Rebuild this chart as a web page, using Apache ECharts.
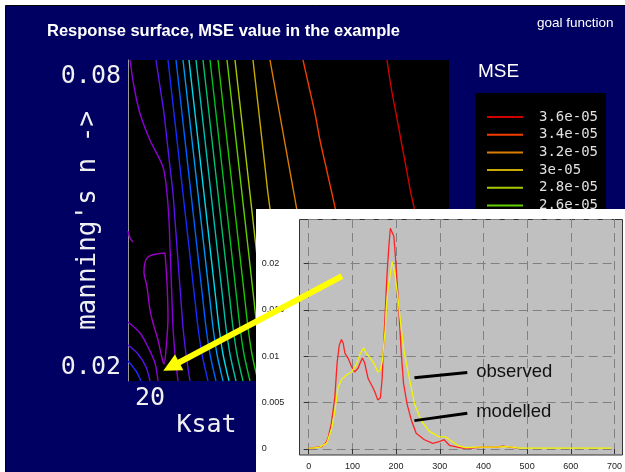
<!DOCTYPE html>
<html>
<head>
<meta charset="utf-8">
<script src="https://cdn.jsdelivr.net/npm/echarts@6.0.0/dist/echarts.min.js"></script>
<style>
  html, body { margin: 0; padding: 0; background: #ffffff; }
  #chart { width: 625px; height: 472px; }
</style>
</head>
<body>
<div id="chart"></div>
<script>
// ---------- response surface: MSE contour lines over Ksat × Manning's n ----------
// Contour levels, highest first (also the legend order)
const levelNames = ['3.6e-05', '3.4e-05', '3.2e-05', '3e-05', '2.8e-05', '2.6e-05', '2.4e-05', '2.2e-05',
  '2e-05', '1.8e-05', '1.6e-05', '1.4e-05', '1.2e-05', '1e-05', '8e-06', '6e-06', '4e-06'];

// Manning's n rows at which each contour's Ksat crossing is listed
const nRows = [0.08, 0.075, 0.07, 0.065, 0.06, 0.055, 0.05, 0.045, 0.04, 0.035, 0.03, 0.025, 0.02];

// Ksat crossing of each contour level, one value per row of nRows (top to bottom)
const k36 = [84.75, 85.75, 87, 88.25, 89.5, 90.75, 92.25, 93.5];
const k34 = [63.75, 65.25, 66.75, 68, 69.5, 71, 72.5, 74];
const k32 = [55.5, 56.7, 57.9, 59.1, 60.3, 61.5, 62.7, 63.9];
const k30 = [51.25, 52, 52.75, 53.5, 54.25, 55, 55.9, 56.65];
const k28 = [46.75, 47.5, 48.25, 49, 49.75, 50.5, 51.25, 52, 52.75, 53.5, 54.25, 55.25, 56.75];
const k26 = [44.75, 45.5, 46.25, 47, 47.75, 48.5, 49.25, 50, 50.75, 51.5, 52.25, 53.25, 54.75];
const k24 = [42.5, 43.25, 44, 44.75, 45.5, 46.25, 47, 47.75, 48.5, 49.25, 50, 51, 52.5];
const k22 = [40.5, 41.25, 42, 42.75, 43.5, 44.25, 45, 45.75, 46.5, 47.25, 48, 49, 50.5];
const k20 = [38.75, 39.5, 40.25, 41, 41.75, 42.5, 43.25, 44, 44.75, 45.5, 46.25, 47.25, 48.75];
const k18 = [37, 37.75, 38.5, 39.25, 40, 40.75, 41.5, 42.25, 43, 43.75, 44.5, 45.5, 47];
const k16 = [35.25, 36, 36.75, 37.5, 38.25, 39, 39.75, 40.5, 41.25, 42, 42.75, 43.75, 45.25];
const k14 = [33.75, 34.5, 35.25, 36, 36.75, 37.5, 38.25, 39, 39.75, 40.5, 41.25, 42.25, 43.75];
const k12 = [32, 32.75, 33.5, 34.25, 35, 35.75, 36.5, 37.25, 38, 38.75, 39.5, 40.5, 42];
const k10 = [30, 30.75, 31.5, 32.25, 33, 33.75, 34.5, 35.25, 36, 36.75, 37.5, 38.5, 40];
const k08 = [27, 28, 29, 29.75, 30.5, 31.25, 31.75, 32.25, 32.75, 33.25, 33.75, 34.5, 35.5];
const k06 = [20.5, 21.5, 23, 25.5, 28.75, 29.75, 30.25, 30.5, 30.75, 31, 31.25, 31.75, 32.5];

// Extra pieces given as [Ksat, n] points: the closed minimum and the lower-left corner
const loop04 = [[29.25, 0.04393], [25, 0.04318], [24, 0.04037], [24.75, 0.03757], [25.5, 0.03327],
  [26.25, 0.03084], [27.5, 0.02766], [28.5, 0.0243], [29, 0.02318], [29.5, 0.02579],
  [30, 0.03196], [29.75, 0.03832], [29.25, 0.04393]];
const hook04 = [[20, 0.04804], [20.5, 0.04673], [21.25, 0.04598]];
const corner06 = [[20, 0.03103], [23, 0.02897], [25, 0.02636], [26.75, 0.02336], [27.5, 0.02]];
const corner08 = [[20, 0.02673], [22.5, 0.02505], [24.5, 0.02262], [25.5, 0.02]];
const corner10 = [[20, 0.02374], [22, 0.02187], [23.25, 0.02]];

// Arrow from the hydrograph to the optimum (Ksat, n)
const arrowFrom = [73.5, 0.0396];
const arrowTo = [30.8, 0.0227];

// ---------- hydrograph inset: discharge against time ----------
const obsTime = [0, 10, 25, 41, 52, 60, 67, 75, 87, 98, 109, 118, 126, 132, 141, 151, 158, 164, 169, 172, 175,
  178, 182, 185, 191, 197, 204, 212, 219, 231, 242, 257, 276, 299, 314, 322, 345, 360, 385, 420, 454, 485, 550, 620, 693];
const obsQ = [0.0001, 0.0001, 0.0002, 0.0006, 0.0021, 0.0042, 0.0066, 0.0075, 0.008, 0.0083, 0.0091, 0.0103, 0.0109,
  0.0103, 0.0098, 0.0091, 0.0083, 0.0085, 0.0096, 0.0114, 0.0128, 0.0155, 0.0175, 0.0183, 0.0202, 0.019, 0.0164,
  0.0129, 0.0103, 0.0075, 0.0049, 0.0031, 0.0019, 0.0013, 0.0013, 0.001, 0.0003, 0.00015, 0.0002, 0.0002, 0.00025,
  0.0001, 0.0001, 0.0001, 0.0001];

const modTime = [0, 10, 20, 30, 40, 45, 52, 56, 60, 65, 70, 75, 79, 83, 90, 98, 105, 113, 118, 123, 128, 136, 147,
  152, 158, 164, 168, 171, 174, 179, 184, 187, 191, 195, 199, 204, 208, 212, 217, 225, 235, 246, 265, 284, 299, 310,
  322, 340, 352, 370, 400, 430, 445, 460, 480];
const modQ = [0.0001, 0.0001, 0.0002, 0.00025, 0.0007, 0.0013, 0.0028, 0.0042, 0.0057, 0.0093, 0.0112, 0.0118,
  0.0114, 0.0103, 0.0098, 0.0089, 0.0083, 0.0087, 0.0093, 0.0098, 0.0093, 0.0076, 0.0066, 0.0061, 0.0053, 0.0055,
  0.0075, 0.0107, 0.0136, 0.0186, 0.0222, 0.0238, 0.024, 0.0229, 0.0204, 0.0168, 0.0136, 0.0103, 0.0071, 0.0049,
  0.0031, 0.0017, 0.001, 0.0006, 0.0008, 0.001, 0.0004, 0.0002, 0.0001, 0.0001, 0.0002, 0.0002, 0.0003, 0.0002, 0.0001];

// Callout pointers in the inset, [time, Q] at both ends
const observedPointer = [[242, 0.00767], [363, 0.00824]];
const modelledPointer = [[242, 0.00306], [363, 0.00386]];

// ---------- styling ----------
const levelColors = ['#d00000', '#f23c00', '#dc7c00', '#c8aa00', '#a8c800', '#62d000', '#22c400', '#00c028',
  '#00c070', '#00c0b0', '#00d8ec', '#0098f0', '#0060ff', '#1a2aff', '#5a12f0', '#8a00d8', '#9c00c8'];
const monoFont = 'DejaVu Sans Mono';
const sansFont = 'Liberation Sans, Arial, sans-serif';

const rowLines = [k36, k34, k32, k30, k28, k26, k24, k22, k20, k18, k16, k14, k12, k10, k08, k06, null];
const extraPieces = { '4e-06': [loop04, hook04], '6e-06': [corner06], '8e-06': [corner08], '1e-05': [corner10] };

const contourSeries = [];
levelNames.forEach(function (name, i) {
  const base = {
    type: 'line', name: name, xAxisIndex: 0, yAxisIndex: 0,
    symbol: 'none', smooth: 0.3, color: levelColors[i],
    lineStyle: { width: 1.4, color: levelColors[i] }, silent: true, z: 2
  };
  if (rowLines[i]) {
    contourSeries.push(Object.assign({}, base, {
      data: rowLines[i].map(function (k, r) { return [k, nRows[r]]; })
    }));
  }
  (extraPieces[name] || []).forEach(function (piece) {
    contourSeries.push(Object.assign({}, base, { data: piece }));
  });
});

function pairs(xs, ys) { return xs.map(function (x, i) { return [x, ys[i]]; }); }

const chart = echarts.init(document.getElementById('chart'), null, { renderer: 'canvas' });

chart.setOption({
  animation: false,
  backgroundColor: '#ffffff',
  title: [
    { text: 'Response surface, MSE value in the example', left: 47, top: 23, padding: 0,
      textStyle: { color: '#ffffff', fontSize: 16.5, fontWeight: 'bold', fontFamily: sansFont } },
    { text: 'goal function', left: 537, top: 16, padding: 0,
      textStyle: { color: '#ffffff', fontSize: 13.5, fontWeight: 'normal', fontFamily: sansFont } },
    { text: 'MSE', left: 478, top: 62, padding: 0,
      textStyle: { color: '#ffffff', fontSize: 19, fontWeight: 'normal', fontFamily: sansFont } }
  ],
  legend: {
    data: levelNames, orient: 'vertical', left: 475, top: 93,
    backgroundColor: '#000000', padding: [17, 8, 12, 12],
    icon: 'rect', itemWidth: 36, itemHeight: 2, itemGap: 3.7, selectedMode: false,
    textStyle: { color: '#e0e0e0', fontSize: 14, lineHeight: 14, fontFamily: monoFont, padding: [0, 0, 0, 11] }
  },
  graphic: [
    { type: 'rect', z: -100, silent: true, shape: { x: 5.5, y: 5.5, width: 622, height: 470 },
      style: { fill: '#000062', stroke: '#000000', lineWidth: 1 } },
    { type: 'rect', z: 10, silent: true, shape: { x: 256, y: 209, width: 369, height: 263 },
      style: { fill: '#ffffff' } },
    { type: 'rect', z: 11, silent: true, shape: { x: 299.5, y: 219.5, width: 323, height: 235.5 },
      style: { fill: '#c0c0c0', stroke: '#333333', lineWidth: 1 } }
  ],
  grid: [
    { left: 128, top: 60, width: 321, height: 321, show: true, backgroundColor: '#000000', borderWidth: 0 },
    { left: 308.7, top: 219, width: 307.3, height: 230, show: false }
  ],
  xAxis: [
    {
      type: 'value', gridIndex: 0, min: 20, max: 100.25,
      axisLine: { show: false }, axisTick: { show: false }, splitLine: { show: false },
      axisLabel: {
        formatter: function (v) { return v === 20 ? '20' : ''; },
        align: 'left', padding: [0, 0, 0, 7], margin: 5,
        color: '#f0f0f0', fontSize: 25, fontFamily: monoFont
      },
      name: 'Ksat', nameLocation: 'middle', nameGap: 32, nameMoveOverlap: false,
      nameTextStyle: { color: '#f0f0f0', fontSize: 25, fontFamily: monoFont, padding: [0, 164, 0, 0] }
    },
    {
      type: 'value', gridIndex: 1, min: 0, max: 700, interval: 100, offset: 6, z: 12,
      axisLine: { show: false },
      axisTick: { show: true, length: 5, lineStyle: { color: '#333333' } },
      axisLabel: { color: '#222222', fontSize: 9, fontFamily: sansFont, margin: 7 },
      splitLine: { show: true, lineStyle: { color: '#808080', width: 1, type: [9, 5] } }
    }
  ],
  yAxis: [
    {
      type: 'value', gridIndex: 0, min: 0.02, max: 0.08,
      axisLine: { show: true, lineStyle: { color: '#9a9a9a', width: 1 } },
      axisTick: { show: false }, splitLine: { show: false },
      axisLabel: {
        margin: 7, color: '#f0f0f0', fontSize: 25, fontFamily: monoFont,
        formatter: function (v) {
          if (Math.abs(v - 0.08) < 1e-9) return '{t|0.08}';
          if (Math.abs(v - 0.02) < 1e-9) return '{b|0.02}';
          return '';
        },
        rich: {
          t: { padding: [32, 0, 0, 0], color: '#f0f0f0', fontSize: 25, fontFamily: monoFont },
          b: { padding: [0, 0, 28, 0], color: '#f0f0f0', fontSize: 25, fontFamily: monoFont }
        }
      },
      name: "manning's n ->", nameLocation: 'middle', nameRotate: 90, nameGap: 27, nameMoveOverlap: false,
      nameTextStyle: { color: '#f0f0f0', fontSize: 26, fontFamily: monoFont }
    },
    {
      type: 'value', gridIndex: 1, min: 0, max: 0.0248, interval: 0.005, offset: 10, z: 12,
      axisLine: { show: false },
      axisTick: { show: true, length: 5, lineStyle: { color: '#333333' } },
      axisLabel: { color: '#222222', fontSize: 9, fontFamily: sansFont, align: 'left', margin: 37,
        showMaxLabel: false },
      splitLine: { show: true, lineStyle: { color: '#808080', width: 1, type: [9, 5] } }
    }
  ],
  series: contourSeries.concat([
    {
      type: 'line', name: 'modelled', xAxisIndex: 1, yAxisIndex: 1, z: 15,
      symbol: 'none', data: pairs(modTime, modQ), silent: true,
      lineStyle: { color: '#ff2222', width: 1.3 }
    },
    {
      type: 'line', name: 'observed', xAxisIndex: 1, yAxisIndex: 1, z: 16,
      symbol: 'none', data: pairs(obsTime, obsQ), silent: true,
      lineStyle: { color: '#f4f400', width: 1.3 },
      markLine: {
        silent: true, symbol: 'none', label: { show: false },
        lineStyle: { color: '#666666', type: 'solid', width: 2 },
        data: [{ xAxis: 0 }]
      }
    },
    {
      type: 'lines', coordinateSystem: 'cartesian2d', xAxisIndex: 1, yAxisIndex: 1, z: 17, silent: true,
      lineStyle: { color: '#000000', width: 3, opacity: 1 },
      label: { show: true, position: 'end', distance: 9, formatter: '{b}', color: '#111111',
        fontSize: 18.5, fontFamily: sansFont },
      data: [
        { name: 'observed', coords: observedPointer },
        { name: 'modelled', coords: modelledPointer }
      ]
    },
    {
      type: 'lines', coordinateSystem: 'cartesian2d', xAxisIndex: 0, yAxisIndex: 0, z: 30, silent: true,
      symbol: ['none', 'triangle'], symbolSize: [15, 18],
      lineStyle: { color: '#ffff00', width: 6, opacity: 1 },
      data: [{ coords: [arrowFrom, arrowTo] }]
    }
  ])
});
</script>
</body>
</html>
